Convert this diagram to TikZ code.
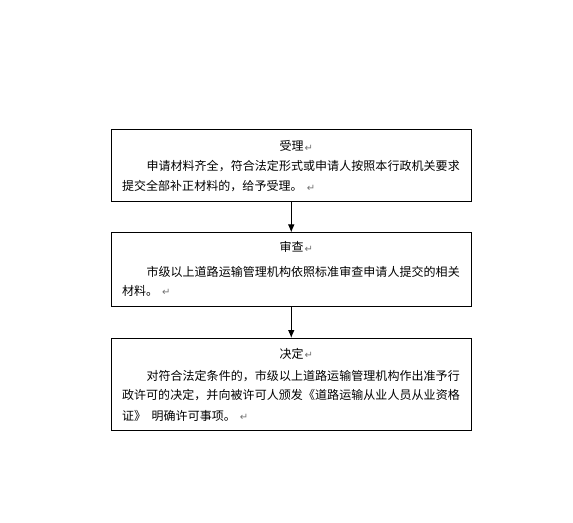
\documentclass[tikz,border=0pt]{standalone}
\usepackage{fontspec}
\setmainfont{Noto Sans CJK SC}
\newfontfamily\markfont{DejaVu Sans}
\usetikzlibrary{arrows.meta}
\newdimen\pxu \pxu=0.75pt
\newcommand\pmark[1][4]{\rlap{\hspace{#1\pxu}\raisebox{-0.5pt}{\markfont\fontsize{7.5pt}{7.5pt}\selectfont\color{black!55}↵}}}
\makeatletter
\newcommand\spread[2]{\def\sp@pitch{#1}\@tfor\sp@c:=#2\do{\makebox[\sp@pitch\pxu][l]{\sp@c}}}
\makeatother
\begin{document}
\begin{tikzpicture}[x=0.75pt,y=-0.75pt,
  box/.style={draw=black,line width=0.75pt,rectangle,inner sep=0pt},
  txt/.style={inner sep=0pt,outer sep=0pt,font=\fontsize{9pt}{9pt}\selectfont},
  arr/.style={line width=0.75pt,-{Latex[length=6pt,width=5pt]}}]
\useasboundingbox (0,0) rectangle (573,523);
\fill[white] (0,0) rectangle (573,523);

\node[box,minimum width=359.5*0.75pt,minimum height=72*0.75pt] (b1) at (291.25,165.5) {};
\node[box,minimum width=359.5*0.75pt,minimum height=73*0.75pt] (b2) at (291.25,269.5) {};
\node[box,minimum width=359.5*0.75pt,minimum height=92*0.75pt] (b3) at (291.25,384.5) {};

\draw[arr] (b1.south) -- (b2.north);
\draw[arr] (b2.south) -- (b3.north);

\node[txt,anchor=center] (t1) at (291.5,146) {受理\pmark[1]};
\node[txt,anchor=west] (b1l1) at (146.5,166) {\spread{12.05}{申请材料齐全，符合法定形式或申请人按照本行政机关要求}};
\node[txt,anchor=west] (b1l2) at (122,186) {\spread{12.05}{提交全部补正材料的，给予受理。}\pmark};

\node[txt,anchor=center] (t2) at (291.5,247) {审查\pmark[1]};
\node[txt,anchor=west] (b2l1) at (146.5,271.5) {\spread{12.05}{市级以上道路运输管理机构依照标准审查申请人提交的相关}};
\node[txt,anchor=west] (b2l2) at (122,290.5) {\spread{12.05}{材料。}\pmark};

\node[txt,anchor=center] (t3) at (291.5,353.5) {决定\pmark[1]};
\node[txt,anchor=west] (b3l1) at (146.5,376) {\spread{12.05}{对符合法定条件的，市级以上道路运输管理机构作出准予行}};
\node[txt,anchor=west] (b3l2) at (122,395.5) {\spread{12.07}{政许可的决定，并向被许可人颁发《道路运输从业人员从业资格}};
\node[txt,anchor=west] (b3l3) at (122,415.5) {\spread{12.05}{证》}\hspace*{5.5\pxu}\spread{12.05}{明确许可事项。}\pmark};
\end{tikzpicture}
\end{document}
